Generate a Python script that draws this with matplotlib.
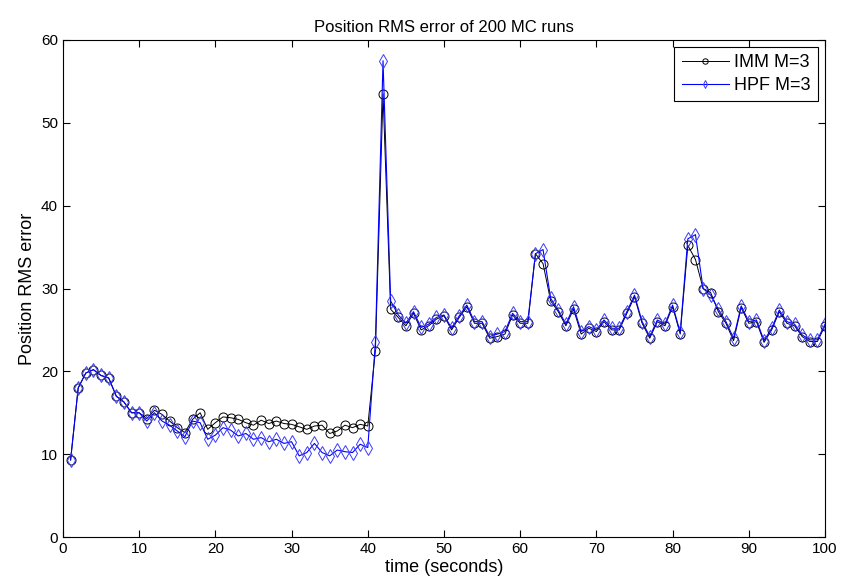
import numpy as np
import matplotlib
matplotlib.use('Agg')
import matplotlib.pyplot as plt

plt.rcParams['font.family'] = ['Liberation Sans', 'DejaVu Sans']

# time steps 1..100
t = np.arange(1, 101)

# IMM M=3 rms error
imm = [9.3, 18.0, 19.8, 20.2, 19.5, 19.2, 17.0, 16.3, 15.0, 15.0,
       14.3, 15.3, 14.8, 14.0, 13.2, 12.6, 14.2, 15.0, 13.0, 13.8,
       14.5, 14.4, 14.2, 13.8, 13.5, 14.1, 13.7, 14.0, 13.7, 13.6,
       13.3, 13.0, 13.4, 13.5, 12.5, 12.8, 13.5, 13.2, 13.6, 13.4,
       22.5, 53.5, 27.5, 26.5, 25.5, 27.0, 25.0, 25.5, 26.3, 26.7,
       25.0, 26.5, 27.8, 25.8, 25.8, 24.0, 24.2, 24.5, 26.8, 25.8,
       25.8, 34.2, 33.0, 28.5, 27.2, 25.5, 27.5, 24.5, 25.2, 24.8,
       26.0, 25.0, 25.0, 27.0, 29.0, 25.8, 24.0, 26.0, 25.5, 27.8,
       24.5, 35.2, 33.5, 30.0, 29.5, 27.2, 25.8, 23.7, 27.7, 25.8,
       26.0, 23.5, 25.0, 27.2, 25.8, 25.5, 24.2, 23.6, 23.6, 25.5]

# HPF M=3 rms error
hpf = [9.3, 18.0, 19.8, 20.2, 19.5, 19.2, 17.0, 16.3, 15.0, 15.0,
       14.0, 15.0, 14.0, 13.5, 12.8, 12.1, 14.0, 13.8, 11.8, 12.3,
       13.2, 12.9, 12.2, 12.5, 11.8, 12.0, 11.5, 11.8, 11.3, 11.5,
        9.8, 10.2, 11.3, 10.2,  9.8, 10.5, 10.3, 10.2, 11.2, 10.8,
       23.5, 57.5, 28.5, 26.8, 25.8, 27.2, 25.3, 25.7, 26.5, 26.8,
       25.2, 26.7, 28.0, 26.0, 26.0, 24.2, 24.5, 24.8, 27.0, 26.0,
       26.0, 34.2, 34.7, 28.8, 27.4, 25.7, 27.8, 24.8, 25.4, 25.0,
       26.2, 25.2, 25.2, 27.2, 29.2, 26.0, 24.2, 26.2, 25.7, 28.0,
       24.7, 36.0, 36.5, 30.0, 29.2, 27.5, 26.0, 24.0, 27.9, 26.0,
       26.2, 23.7, 25.2, 27.4, 26.0, 25.7, 24.4, 23.8, 23.8, 25.7]

fig = plt.figure(figsize=(8.44, 5.88), dpi=100)
ax = fig.add_axes([0.0746, 0.0867, 0.9029, 0.8453])

ax.plot(t, imm, color='black', lw=0.7, marker='o', ms=6.5, mfc='none',
        mec='black', mew=0.7, label='IMM M=3')
ax.plot(t, hpf, color='#0000ff', lw=0.8, marker='d', ms=7, mfc='none',
        mec='#3a3aff', mew=0.7, label='HPF M=3')

ax.set_xlim(0, 100)
ax.set_ylim(0, 60)
ax.set_xticks(np.arange(0, 101, 10))
ax.set_yticks(np.arange(0, 61, 10))
ax.tick_params(direction='in', top=True, right=True, labelsize=11, length=5)
for s in ax.spines.values():
    s.set_linewidth(0.8)

ax.set_title('Position RMS error of 200 MC runs', fontsize=12)
ax.set_xlabel('time (seconds)', fontsize=13, labelpad=2)
ax.set_ylabel('Position RMS error', fontsize=13, labelpad=4)

leg = ax.legend(loc='upper right', fontsize=13, fancybox=False, framealpha=1,
                edgecolor='black', handlelength=2.6, markerscale=0.6,
                borderaxespad=0.4, labelspacing=0.3, handletextpad=0.3)
leg.get_frame().set_linewidth(0.8)

fig.savefig('out.png', dpi=100)
